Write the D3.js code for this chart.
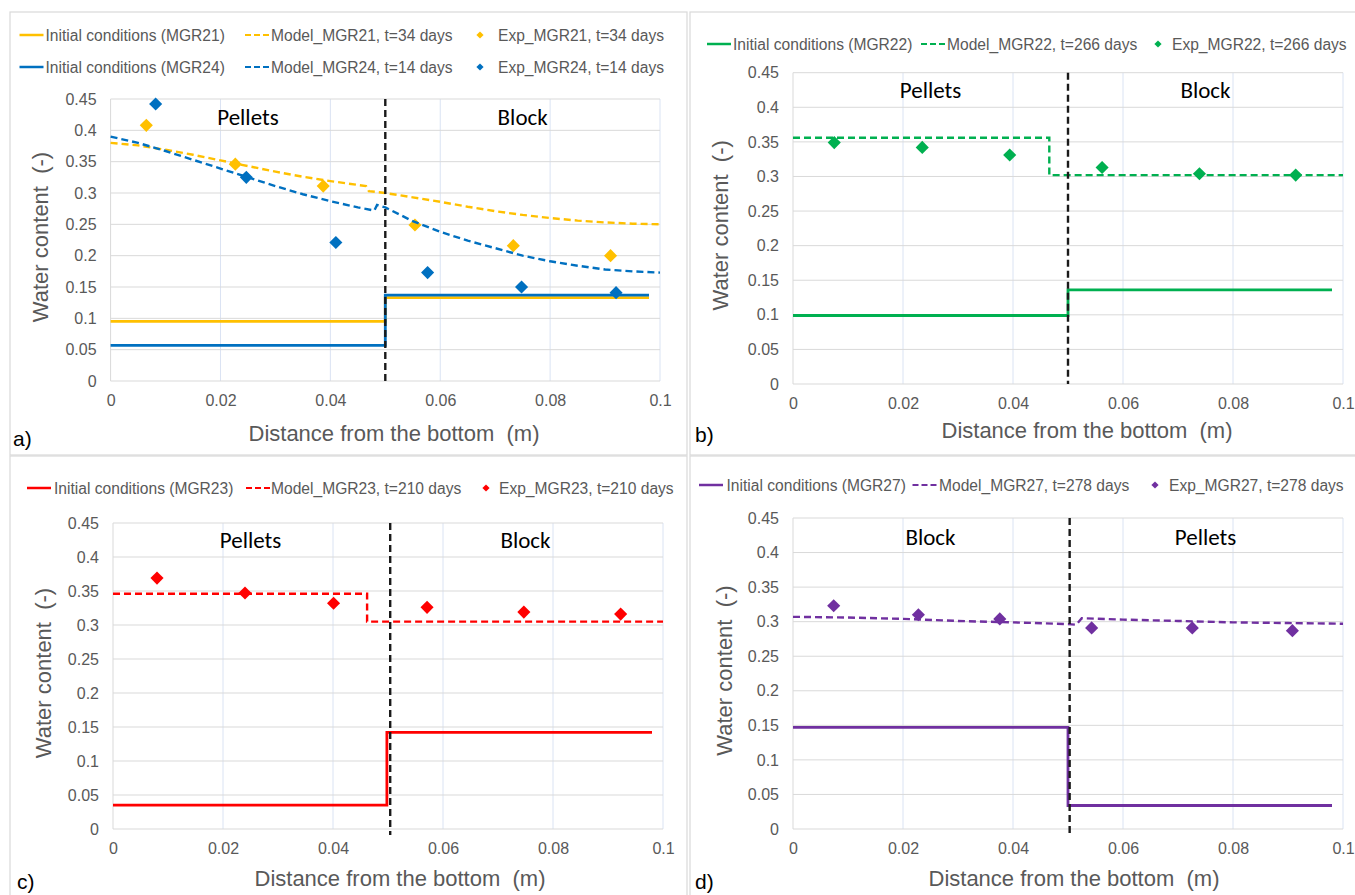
<!DOCTYPE html>
<html>
<head>
<meta charset="utf-8">
<script src="https://cdn.jsdelivr.net/npm/d3@7"></script>
<style>
  body { margin: 0; background: #fff; }
  svg { display: block; }
  text { white-space: pre; }
</style>
</head>
<body>
<div id="chart"></div>
<script>
// ── Axes ─────────────────────────────────────
const X_TICKS       = [0, 0.02, 0.04, 0.06, 0.08, 0.1];
const X_TICK_LABELS = ["0", "0.02", "0.04", "0.06", "0.08", "0.1"];
const Y_TICKS       = [0, 0.05, 0.1, 0.15, 0.2, 0.25, 0.3, 0.35, 0.4, 0.45];
const Y_TICK_LABELS = ["0", "0.05", "0.1", "0.15", "0.2", "0.25", "0.3", "0.35", "0.4", "0.45"];
const X_TITLE = "Distance from the bottom  (m)";
const Y_TITLE = "Water content  (-)";

// ── a) MGR21 + MGR24 ─────────────────────────
const INIT_MGR21  = [[0, 0.095], [0.05, 0.095], [0.05, 0.133], [0.098, 0.133]];
const MODEL_MGR21 = [[0, 0.380], [0.005, 0.376], [0.01, 0.369], [0.015, 0.361], [0.02, 0.352],
                     [0.025, 0.343], [0.03, 0.334], [0.035, 0.326], [0.04, 0.319], [0.0465, 0.311],
                     [0.047, 0.303], [0.05, 0.300], [0.055, 0.293], [0.06, 0.286], [0.065, 0.278],
                     [0.07, 0.271], [0.075, 0.265], [0.08, 0.260], [0.085, 0.256], [0.09, 0.253],
                     [0.095, 0.251], [0.1, 0.250]];
const EXP_MGR21   = [[0.0065, 0.408], [0.0227, 0.346], [0.0387, 0.311], [0.0554, 0.249], [0.0733, 0.216], [0.091, 0.200]];
const INIT_MGR24  = [[0, 0.057], [0.05, 0.057], [0.05, 0.137], [0.098, 0.137]];
const MODEL_MGR24 = [[0, 0.390], [0.005, 0.380], [0.01, 0.367], [0.015, 0.353], [0.02, 0.339],
                     [0.025, 0.325], [0.03, 0.311], [0.035, 0.298], [0.04, 0.287], [0.045, 0.277],
                     [0.048, 0.272], [0.0485, 0.281], [0.05, 0.277], [0.055, 0.255], [0.06, 0.238],
                     [0.065, 0.224], [0.07, 0.212], [0.075, 0.200], [0.08, 0.191], [0.085, 0.184],
                     [0.09, 0.178], [0.095, 0.175], [0.1, 0.173]];
const EXP_MGR24   = [[0.0082, 0.442], [0.0247, 0.325], [0.041, 0.221], [0.0577, 0.173], [0.0748, 0.150], [0.092, 0.141]];
const LABELS_A = ["Initial conditions (MGR21)", "Model_MGR21, t=34 days", "Exp_MGR21, t=34 days",
                  "Initial conditions (MGR24)", "Model_MGR24, t=14 days", "Exp_MGR24, t=14 days"];

// ── b) MGR22 ─────────────────────────────────
const INIT_MGR22  = [[0, 0.099], [0.05, 0.099], [0.05, 0.136], [0.098, 0.136]];
const MODEL_MGR22 = [[0, 0.356], [0.0466, 0.356], [0.0466, 0.302], [0.1, 0.302]];
const EXP_MGR22   = [[0.0075, 0.349], [0.0235, 0.342], [0.0394, 0.331], [0.0562, 0.313], [0.0739, 0.304], [0.0914, 0.302]];
const LABELS_B = ["Initial conditions (MGR22)", "Model_MGR22, t=266 days", "Exp_MGR22, t=266 days"];

// ── c) MGR23 ─────────────────────────────────
const INIT_MGR23  = [[0, 0.035], [0.0498, 0.035], [0.0498, 0.142], [0.098, 0.142]];
const MODEL_MGR23 = [[0, 0.346], [0.0462, 0.346], [0.0462, 0.305], [0.1, 0.305]];
const EXP_MGR23   = [[0.008, 0.369], [0.024, 0.347], [0.0401, 0.332], [0.0571, 0.326], [0.0747, 0.319], [0.0923, 0.316]];
const LABELS_C = ["Initial conditions (MGR23)", "Model_MGR23, t=210 days", "Exp_MGR23, t=210 days"];

// ── d) MGR27 ─────────────────────────────────
const INIT_MGR27  = [[0, 0.147], [0.05, 0.147], [0.05, 0.034], [0.098, 0.034]];
const MODEL_MGR27 = [[0, 0.307], [0.01, 0.306], [0.02, 0.304], [0.03, 0.301], [0.04, 0.299],
                     [0.05, 0.2965], [0.0515, 0.2955], [0.0525, 0.305], [0.06, 0.303], [0.07, 0.301],
                     [0.08, 0.299], [0.09, 0.298], [0.1, 0.297]];
const EXP_MGR27   = [[0.0074, 0.323], [0.0228, 0.310], [0.0376, 0.304], [0.0543, 0.291], [0.0726, 0.291], [0.0908, 0.287]];
const LABELS_D = ["Initial conditions (MGR27)", "Model_MGR27, t=278 days", "Exp_MGR27, t=278 days"];

// ── Zones ────────────────────────────────────
const ZONES_PB = [["Pellets", 0.025], ["Block", 0.075]];
const ZONES_BP = [["Block", 0.025], ["Pellets", 0.075]];

const COLOR = { MGR21: "#FFC000", MGR24: "#0070C0", MGR22: "#00B050", MGR23: "#FF0000", MGR27: "#7030A0" };

const FONT = "'Liberation Sans', Arial, sans-serif";
const ZONE_FONT = "Carlito, Calibri, Lato, sans-serif";
const GREY = "#595959";

const W = 1355, H = 895;
const svg = d3.select("#chart").append("svg").attr("width", W).attr("height", H);

const PANELS = [
  { letter: "a)", box: [10, 12, 677, 443], plot: { l: 110.6, r: 660, t: 99, b: 381 },
    divider: [0.05, 0, 0.45], zones: ZONES_PB, zoneY: 0.421,
    series: [
      { kind: "init",  data: INIT_MGR21,  color: COLOR.MGR21, label: LABELS_A[0] },
      { kind: "model", data: MODEL_MGR21, color: COLOR.MGR21, label: LABELS_A[1] },
      { kind: "exp",   data: EXP_MGR21,   color: COLOR.MGR21, label: LABELS_A[2] },
      { kind: "init",  data: INIT_MGR24,  color: COLOR.MGR24, label: LABELS_A[3] },
      { kind: "model", data: MODEL_MGR24, color: COLOR.MGR24, label: LABELS_A[4] },
      { kind: "exp",   data: EXP_MGR24,   color: COLOR.MGR24, label: LABELS_A[5] }
    ],
    legend: { rows: [35, 67], cols: [[19.5, 45.5], [245, 271], [480, 498]] },
    xTitle: 394, titleGap: 60, yTitleX: 40, letterPos: [13, 446] },
  { letter: "b)", box: [690, 12, 670, 443], plot: { l: 793, r: 1343, t: 72.7, b: 384 },
    divider: [0.05, 0, 0.45], zones: ZONES_PB, zoneY: 0.425,
    series: [
      { kind: "init",  data: INIT_MGR22,  color: COLOR.MGR22, label: LABELS_B[0] },
      { kind: "model", data: MODEL_MGR22, color: COLOR.MGR22, label: LABELS_B[1] },
      { kind: "exp",   data: EXP_MGR22,   color: COLOR.MGR22, label: LABELS_B[2] }
    ],
    legend: { rows: [44], cols: [[707, 733], [921, 947], [1158, 1172]] },
    xTitle: 1087, titleGap: 54, yTitleX: 720, letterPos: [695, 442] },
  { letter: "c)", box: [10, 456, 677, 445], plot: { l: 113, r: 663, t: 523, b: 829 },
    divider: [0.0504, -0.009, 0.45], zones: ZONES_PB, zoneY: 0.425,
    series: [
      { kind: "init",  data: INIT_MGR23,  color: COLOR.MGR23, label: LABELS_C[0] },
      { kind: "model", data: MODEL_MGR23, color: COLOR.MGR23, label: LABELS_C[1] },
      { kind: "exp",   data: EXP_MGR23,   color: COLOR.MGR23, label: LABELS_C[2] }
    ],
    legend: { rows: [488], cols: [[27, 54], [246, 271], [486, 499]] },
    xTitle: 400, titleGap: 57, yTitleX: 43, letterPos: [17, 889] },
  { letter: "d)", box: [690, 456, 670, 445], plot: { l: 793, r: 1343, t: 518, b: 829 },
    divider: [0.0503, -0.006, 0.45], zones: ZONES_BP, zoneY: 0.4225,
    series: [
      { kind: "init",  data: INIT_MGR27,  color: COLOR.MGR27, label: LABELS_D[0] },
      { kind: "model", data: MODEL_MGR27, color: COLOR.MGR27, label: LABELS_D[1] },
      { kind: "exp",   data: EXP_MGR27,   color: COLOR.MGR27, label: LABELS_D[2] }
    ],
    legend: { rows: [485], cols: [[699, 726.5], [912.5, 939], [1155, 1169]] },
    xTitle: 1074, titleGap: 57, yTitleX: 724, letterPos: [695, 889] }
];

const diamond = (size) => d3.symbol(d3.symbolSquare, size)();

function drawPanel(p) {
  const g = svg.append("g");

  // panel frame
  g.append("rect").attr("x", p.box[0]).attr("y", p.box[1])
    .attr("width", p.box[2]).attr("height", p.box[3])
    .attr("fill", "none").attr("stroke", "#D9D9D9").attr("stroke-width", 1.2);

  const x = d3.scaleLinear().domain([0, 0.1]).range([p.plot.l, p.plot.r]);
  const y = d3.scaleLinear().domain([0, 0.45]).range([p.plot.b, p.plot.t]);

  // grid
  g.append("g").selectAll("line").data(X_TICKS).join("line")
    .attr("x1", d => x(d)).attr("x2", d => x(d))
    .attr("y1", y(0)).attr("y2", y(0.45))
    .attr("stroke", d => d === 0 ? "#D9D9D9" : "#DAE3F3").attr("stroke-width", 1);
  g.append("g").selectAll("line").data(Y_TICKS).join("line")
    .attr("x1", x(0)).attr("x2", x(0.1))
    .attr("y1", d => y(d)).attr("y2", d => y(d))
    .attr("stroke", "#D9D9D9").attr("stroke-width", 1);

  // axes (labels only)
  const xAxis = g.append("g").attr("transform", `translate(0,${y(0)})`)
    .call(d3.axisBottom(x).tickValues(X_TICKS).tickSize(0).tickPadding(14)
      .tickFormat((d, i) => X_TICK_LABELS[i]));
  const yAxis = g.append("g").attr("transform", `translate(${x(0)},0)`)
    .call(d3.axisLeft(y).tickValues(Y_TICKS).tickSize(0).tickPadding(14)
      .tickFormat((d, i) => Y_TICK_LABELS[i]));
  [xAxis, yAxis].forEach(a => {
    a.select(".domain").remove();
    a.selectAll("text").attr("font-family", FONT).attr("font-size", "16px").attr("fill", GREY);
  });

  // series
  const line = d3.line().x(d => x(d[0])).y(d => y(d[1]));
  p.series.forEach(s => {
    if (s.kind === "init") {
      g.append("path").datum(s.data).attr("d", line)
        .attr("fill", "none").attr("stroke", s.color).attr("stroke-width", 2.8);
    } else if (s.kind === "model") {
      g.append("path").datum(s.data).attr("d", line)
        .attr("fill", "none").attr("stroke", s.color).attr("stroke-width", 2.4)
        .attr("stroke-dasharray", "7,4");
    } else {
      g.append("g").selectAll("path").data(s.data).join("path")
        .attr("d", diamond(86))
        .attr("transform", d => `translate(${x(d[0])},${y(d[1])}) rotate(45)`)
        .attr("fill", s.color);
    }
  });

  // interface line
  g.append("line")
    .attr("x1", x(p.divider[0])).attr("x2", x(p.divider[0]))
    .attr("y1", y(p.divider[2])).attr("y2", y(p.divider[1]))
    .attr("stroke", "#1A1A1A").attr("stroke-width", 2.4).attr("stroke-dasharray", "7,4");

  // zone labels
  p.zones.forEach(([txt, xv]) => {
    g.append("text").attr("x", x(xv)).attr("y", y(p.zoneY))
      .attr("text-anchor", "middle").attr("dominant-baseline", "central")
      .attr("font-family", ZONE_FONT).attr("font-size", "23px").attr("fill", "#000")
      .text(txt);
  });

  // axis titles
  g.append("text").attr("x", p.xTitle).attr("y", y(0) + p.titleGap)
    .attr("text-anchor", "middle").attr("font-family", FONT)
    .attr("font-size", "22px").attr("fill", GREY).text(X_TITLE);
  const cy = (p.plot.t + p.plot.b) / 2 - 3;
  g.append("text").attr("transform", `translate(${p.yTitleX},${cy}) rotate(-90)`)
    .attr("text-anchor", "middle").attr("dominant-baseline", "central")
    .attr("font-family", FONT).attr("font-size", "22px").attr("fill", GREY).text(Y_TITLE);

  // panel letter
  g.append("text").attr("x", p.letterPos[0]).attr("y", p.letterPos[1])
    .attr("font-family", FONT).attr("font-size", "21px").attr("fill", "#000").text(p.letter);

  // legend
  p.series.forEach((s, i) => {
    const ly = p.legend.rows[Math.floor(i / 3)];
    const [cx, tx] = p.legend.cols[i % 3];
    if (s.kind === "exp") {
      g.append("path").attr("d", diamond(26))
        .attr("transform", `translate(${cx},${ly}) rotate(45)`).attr("fill", s.color);
    } else {
      g.append("line").attr("x1", cx).attr("x2", cx + 24).attr("y1", ly).attr("y2", ly)
        .attr("stroke", s.color).attr("stroke-width", s.kind === "init" ? 2.5 : 2.2)
        .attr("stroke-dasharray", s.kind === "model" ? "6,3" : null);
    }
    g.append("text").attr("x", tx).attr("y", ly).attr("dominant-baseline", "central")
      .attr("font-family", FONT).attr("font-size", "15.6px").attr("fill", GREY).text(s.label);
  });
}

PANELS.forEach(drawPanel);
</script>
</body>
</html>
